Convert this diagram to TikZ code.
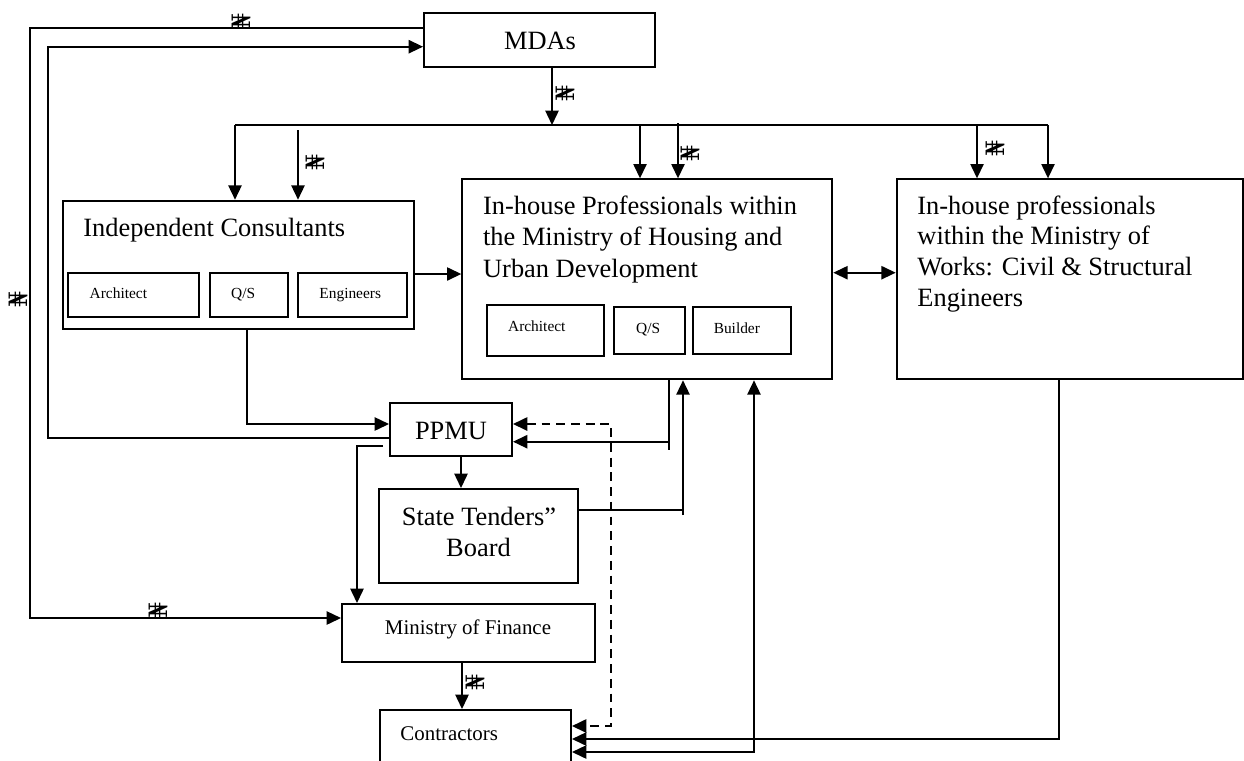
\documentclass[tikz,border=0pt]{standalone}
\usepackage{fontspec}
\setmainfont{Liberation Serif}
\newfontfamily\nairafont{DejaVu Serif}
\usetikzlibrary{arrows.meta,fit}
\begin{document}
\begin{tikzpicture}[x=0.4545pt,y=-0.4545pt,
  rbox/.style={draw, line width=0.9pt, inner sep=0pt},
  sbox/.style={draw, line width=0.8pt, inner sep=0pt},
  txt/.style={inner sep=0pt, font=\fontsize{12}{14}\selectfont},
  stxt/.style={inner sep=0pt, font=\fontsize{7}{8}\selectfont},
  mtxt/.style={inner sep=0pt, font=\fontsize{9.5}{11}\selectfont},
  conn/.style={line width=0.8pt},
  arr/.style={conn, -{Triangle[length=6.5pt,width=6pt]}},
  darr/.style={conn, {Triangle[length=6.5pt,width=6pt]}-{Triangle[length=6.5pt,width=6pt]}},
  dashline/.style={line width=0.95pt, dash pattern=on 4pt off 2.7pt},
  naira/.style={inner sep=0pt, rotate=90, font=\nairafont\fontsize{11.5}{11.5}\selectfont}]
\useasboundingbox (0,0) rectangle (1244,760);
\clip (0,0) rectangle (1244,760);

% boxes
\node[rbox, fit={(424,12.7) (655,67.3)}] (mdas) {};
\node[rbox, fit={(63,200.7) (414,329)}] (ic) {};
\node[sbox, fit={(68,272.7) (199,317)}] (ica) {};
\node[sbox, fit={(210,272.7) (288,317)}] (icq) {};
\node[sbox, fit={(298,272.7) (407,317)}] (ice) {};
\node[rbox, fit={(462.3,179.3) (832.3,379.3)}] (hou) {};
\node[sbox, fit={(486.7,305) (604.3,355.7)}] (hoa) {};
\node[sbox, fit={(614.3,306.7) (685,354)}] (hoq) {};
\node[sbox, fit={(692.7,307) (790.7,354)}] (hob) {};
\node[rbox, fit={(896.7,179.3) (1242.5,379)}] (wks) {};
\node[rbox, fit={(390,402.7) (512,456)}] (ppmu) {};
\node[rbox, fit={(379,489) (577.7,583)}] (stb) {};
\node[rbox, fit={(342,604) (595,662)}] (mof) {};
\node[rbox, fit={(380,710) (571,790)}] (con) {};

% texts
\node[txt, anchor=base] (mdast) at (540,49.5) {MDAs};
\node[txt, anchor=base] (ppmut) at (451,439) {PPMU};
\node[txt, anchor=base west] (ict) at (83,236) {Independent Consultants};
\node[stxt, anchor=base west] (icat) at (89.3,298.3) {Architect};
\node[stxt, anchor=base west] (icqt) at (230.7,298.3) {Q/S};
\node[stxt, anchor=base west] (icet) at (319,298.3) {Engineers};
\node[txt, anchor=base west] (h1) at (482.7,214.3) {In-house Professionals within};
\node[txt, anchor=base west] (h2) at (482.7,245.8) {the Ministry of Housing and};
\node[txt, anchor=base west] (h3) at (482.7,277.3) {Urban Development};
\node[stxt, anchor=base west] (hoat) at (507.7,331.7) {Architect};
\node[stxt, anchor=base west] (hoqt) at (635.7,333.3) {Q/S};
\node[stxt, anchor=base west] (hobt) at (713.3,333.3) {Builder};
\node[txt, anchor=base west] (w1) at (917,214) {In-house professionals};
\node[txt, anchor=base west] (w2) at (917,244.6) {within the Ministry of};
\node[txt, anchor=base west] (w3) at (917,275.3) {Works: Civil \& Structural};
\node[txt, anchor=base west] (w4) at (917,306) {Engineers};
\node[txt, anchor=base] (s1) at (479,525.7) {State Tenders”};
\node[txt, anchor=base] (s2) at (478.5,556) {Board};
\node[mtxt, anchor=base] (moft) at (468,634) {Ministry of Finance};
\node[mtxt, anchor=base west] (cont) at (400,740.7) {Contractors};

% naira marks
\node[naira] (n1) at (241,21) {₦};
\node[naira] (n2) at (565,93) {₦};
\node[naira] (n3) at (315,162) {₦};
\node[naira] (n4) at (690,153) {₦};
\node[naira] (n5) at (995,148) {₦};
\node[naira] (n6) at (18,299) {₦};
\node[naira] (n7) at (158,610) {₦};
\node[naira] (n8) at (475,682) {₦};

% waypoints
\coordinate (tl) at (30,27.7);
\coordinate (bl) at (30,618);
\coordinate (sl) at (48,46.7);
\coordinate (sb) at (48,437.7);
\coordinate (busm) at (552,125);
\coordinate (busl) at (235,125);
\coordinate (busr) at (1048,125);
\coordinate (icb) at (298,130);
\coordinate (hb1) at (640,125);
\coordinate (hb2) at (678,123);
\coordinate (wb1) at (977,125);
\coordinate (ich) at (414,274);
\coordinate (hw) at (832,272.7);
\coordinate (icp) at (247,424);
\coordinate (pm1) at (383,446);
\coordinate (pm2) at (357,446);
\coordinate (ps) at (461,460);
\coordinate (d1) at (611,424);
\coordinate (d2) at (611,726);
\coordinate (hp1) at (669,450);
\coordinate (hp2) at (669,441.7);
\coordinate (sh1) at (683,510);
\coordinate (sh2) at (683,515);
\coordinate (wc) at (1059,739);
\coordinate (ch) at (754,752);
\coordinate (mc) at (462,680);

% connectors
\draw[arr] (mdas.west |- tl) -- (tl) -- (bl) -- (mof.west |- bl);
\draw[arr] (ppmu.west |- sb) -- (sb) -- (sl) -- (mdas.west |- sl);
\draw[arr] (mdas.south -| busm) -- (busm);
\draw[conn] (busl) -- (busr);
\draw[arr] (busl) -- (ic.north -| busl);
\draw[arr] (icb) -- (ic.north -| icb);
\draw[arr] (hb1) -- (hou.north -| hb1);
\draw[arr] (hb2) -- (hou.north -| hb2);
\draw[arr] (wb1) -- (wks.north -| wb1);
\draw[arr] (busr) -- (wks.north -| busr);
\draw[arr] (ic.east |- ich) -- (hou.west |- ich);
\draw[darr] (hou.east |- hw) -- (wks.west |- hw);
\draw[arr] (ic.south -| icp) -- (icp) -- (ppmu.west |- icp);
\draw[arr] (pm1) -- (pm2) -- (mof.north -| pm2);
\draw[arr] (ppmu.south -| ps) -- (stb.north -| ps);
\draw[dashline, {Triangle[length=6.5pt,width=6pt]}-{Triangle[length=6.5pt,width=6pt]}] (ppmu.east |- d1) -- (d1) -- (d2) -- (con.east |- d2);
\draw[conn] (hou.south -| hp1) -- (hp1);
\draw[arr] (hp2) -- (ppmu.east |- hp2);
\draw[conn] (stb.east |- sh1) -- (sh1);
\draw[arr] (sh2) -- (hou.south -| sh2);
\draw[arr] (wks.south -| wc) -- (wc) -- (con.east |- wc);
\draw[darr] (con.east |- ch) -- (ch) -- (hou.south -| ch);
\draw[arr] (mof.south -| mc) -- (con.north -| mc);
\end{tikzpicture}
\end{document}
